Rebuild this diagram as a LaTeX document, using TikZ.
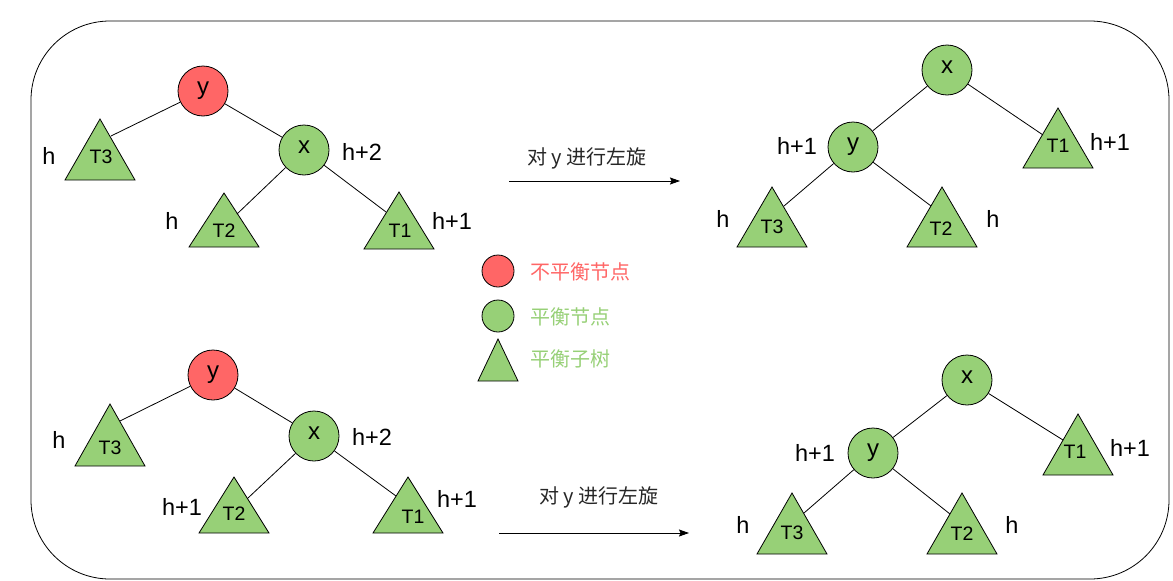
\documentclass[tikz,border=0pt]{standalone}
\usepackage{fontspec}
\setmainfont{Liberation Sans}
\newfontfamily\cjk{Noto Sans CJK SC}
\usetikzlibrary{arrows.meta}
\definecolor{redfill}{HTML}{FF6666}
\definecolor{greenfill}{HTML}{97D077}
\tikzset{
  tnode/.style={circle, draw=black, line width=0.8pt, minimum size=50pt, inner sep=0pt,
    font=\fontsize{24}{28}\selectfont, text height=0.75em, text depth=0.1em},
  unbal/.style={tnode, fill=redfill},
  bal/.style={tnode, fill=greenfill},
  subtree/.style={draw=black, line width=0.8pt, fill=greenfill, line join=miter},
  tlabel/.style={font=\fontsize{19.5}{23}\selectfont, inner sep=0pt},
  hlabel/.style={font=\fontsize{23.5}{27}\selectfont, inner sep=0pt},
  edge/.style={draw=black, line width=0.8pt},
  rotarrow/.style={draw=black, line width=0.8pt, -{Stealth[length=10pt,width=7pt,inset=1.5pt]}},
  rotlabel/.style={font=\cjk\fontsize{20}{24}\selectfont, inner sep=0pt, text=black!85},
  legendtext/.style={font=\cjk\fontsize{20}{24}\selectfont, inner sep=0pt, anchor=west},
  frame/.style={draw=black, line width=0.8pt, rounded corners=79pt}
}
\newcommand\subtri[3]{\filldraw[subtree] ({#1-35},#3) -- (#1,#2) -- ({#1+35},#3) -- cycle;}
\begin{document}
\begin{tikzpicture}[x=1pt,y=-1pt]
\useasboundingbox (0,0) rectangle (1173,581);
\draw[frame] (31,21) rectangle (1169,579);

% ---------- top-left tree ----------
\node[unbal] (y1) at (203,91) {y};
\node[bal] (x1) at (304,150) {x};
\subtri{100}{119}{180}
\subtri{224}{193}{247}
\subtri{399}{192}{249}
\node[tlabel] (t1T3) at (101,157) {T3};
\node[tlabel] (t1T2) at (224,231) {T2};
\node[tlabel] (t1T1) at (400,231) {T1};
\coordinate (e1a) at (111,136);
\coordinate (e1b) at (237,214);
\coordinate (e1c) at (386,212);
\draw[edge] (y1) -- (e1a);
\draw[edge] (y1) -- (x1);
\draw[edge] (x1) -- (e1b);
\draw[edge] (x1) -- (e1c);
\node[hlabel] (l1a) at (49,156) {h};
\node[hlabel] (l1b) at (362,152) {h+2};
\node[hlabel] (l1c) at (172,221) {h};
\node[hlabel] (l1d) at (452,221) {h+1};

% ---------- top-right tree ----------
\node[bal] (x2) at (947,70) {x};
\node[bal] (y2) at (853,147) {y};
\subtri{1058}{108}{168}
\subtri{772}{187}{247}
\subtri{942}{187}{247}
\node[tlabel] (t2T1) at (1058,146) {T1};
\node[tlabel] (t2T3) at (772,227) {T3};
\node[tlabel] (t2T2) at (941,229) {T2};
\coordinate (e2a) at (1043,135);
\coordinate (e2b) at (784,206);
\coordinate (e2c) at (931,206);
\draw[edge] (x2) -- (y2);
\draw[edge] (x2) -- (e2a);
\draw[edge] (y2) -- (e2b);
\draw[edge] (y2) -- (e2c);
\node[hlabel] (l2a) at (797,146) {h+1};
\node[hlabel] (l2b) at (1110,142) {h+1};
\node[hlabel] (l2c) at (723,219) {h};
\node[hlabel] (l2d) at (993,219) {h};

% ---------- bottom-left tree ----------
\node[unbal] (y3) at (213,375) {y};
\node[bal] (x3) at (314,436) {x};
\subtri{110}{404}{466}
\subtri{234}{477}{533}
\subtri{408}{477}{533}
\node[tlabel] (t3T3) at (110,448) {T3};
\node[tlabel] (t3T2) at (234,514) {T2};
\node[tlabel] (t3T1) at (413,517) {T1};
\coordinate (e3a) at (120,421);
\coordinate (e3b) at (248,498);
\coordinate (e3c) at (396,496);
\draw[edge] (y3) -- (e3a);
\draw[edge] (y3) -- (x3);
\draw[edge] (x3) -- (e3b);
\draw[edge] (x3) -- (e3c);
\node[hlabel] (l3a) at (59,440) {h};
\node[hlabel] (l3b) at (372,437) {h+2};
\node[hlabel] (l3c) at (182,507) {h+1};
\node[hlabel] (l3d) at (457,499) {h+1};

% ---------- bottom-right tree ----------
\node[bal] (x4) at (967,380) {x};
\node[bal] (y4) at (873,453) {y};
\subtri{1078}{414}{475}
\subtri{792}{493}{554}
\subtri{962}{493}{554}
\node[tlabel] (t4T1) at (1075,452) {T1};
\node[tlabel] (t4T3) at (792,533) {T3};
\node[tlabel] (t4T2) at (962,534) {T2};
\coordinate (e4a) at (1063,440);
\coordinate (e4b) at (804,513);
\coordinate (e4c) at (950,514);
\draw[edge] (x4) -- (y4);
\draw[edge] (x4) -- (e4a);
\draw[edge] (y4) -- (e4b);
\draw[edge] (y4) -- (e4c);
\node[hlabel] (l4a) at (815,453) {h+1};
\node[hlabel] (l4b) at (1130,448) {h+1};
\node[hlabel] (l4c) at (743,525) {h};
\node[hlabel] (l4d) at (1012,525) {h};

% ---------- rotation arrows ----------
\coordinate (a1s) at (509,181);
\coordinate (a1e) at (680,181);
\draw[rotarrow] (a1s) -- (a1e);
\node[rotlabel] (r1) at (587,158) {对 y 进行左旋};
\coordinate (a2s) at (499,533);
\coordinate (a2e) at (689,533);
\draw[rotarrow] (a2s) -- (a2e);
\node[rotlabel] (r2) at (599,497) {对 y 进行左旋};

% ---------- legend ----------
\node[circle, draw=black, line width=0.8pt, fill=redfill, minimum size=32pt, inner sep=0pt] (lgr) at (498,271) {};
\node[circle, draw=black, line width=0.8pt, fill=greenfill, minimum size=32pt, inner sep=0pt] (lgg) at (498,316) {};
\filldraw[subtree] (478,381) -- (498,339) -- (518,381) -- cycle;
\node[legendtext, text=redfill] (lt1) at (530,272) {不平衡节点};
\node[legendtext, text=greenfill] (lt2) at (530,317) {平衡节点};
\node[legendtext, text=greenfill] (lt3) at (530,359) {平衡子树};
\end{tikzpicture}
\end{document}
